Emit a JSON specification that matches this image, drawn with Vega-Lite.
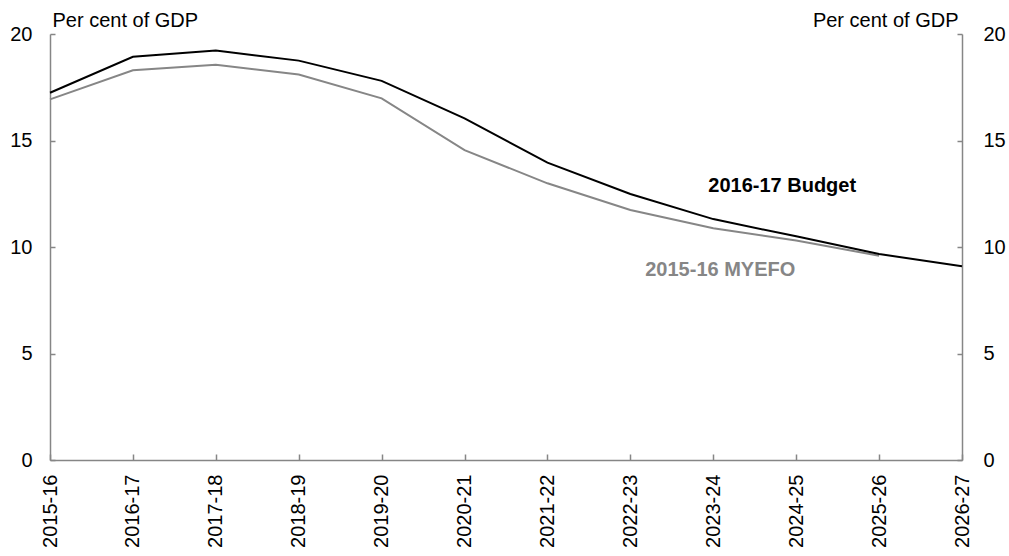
{
  "$schema": "https://vega.github.io/schema/vega-lite/v6.json",
  "width": 912,
  "height": 426,
  "autosize": "none",
  "padding": {"left": 50, "top": 34, "right": 47, "bottom": 96},
  "background": "white",
  "config": {
    "view": {"stroke": null},
    "font": "Liberation Sans",
    "axis": {
      "labelFont": "Liberation Sans",
      "titleFont": "Liberation Sans",
      "labelFontSize": 20,
      "titleFontSize": 20,
      "labelColor": "#000000",
      "titleColor": "#000000",
      "titleFontWeight": "normal",
      "domainColor": "#868686",
      "tickColor": "#868686",
      "domainWidth": 1.5,
      "tickWidth": 1.5,
      "grid": false
    }
  },
  "data": {
    "values": [
      {"year": "2015-16", "series": "2016-17 Budget", "value": 17.24},
      {"year": "2016-17", "series": "2016-17 Budget", "value": 18.93},
      {"year": "2017-18", "series": "2016-17 Budget", "value": 19.22},
      {"year": "2018-19", "series": "2016-17 Budget", "value": 18.75},
      {"year": "2019-20", "series": "2016-17 Budget", "value": 17.8},
      {"year": "2020-21", "series": "2016-17 Budget", "value": 16.04},
      {"year": "2021-22", "series": "2016-17 Budget", "value": 13.96},
      {"year": "2022-23", "series": "2016-17 Budget", "value": 12.49},
      {"year": "2023-24", "series": "2016-17 Budget", "value": 11.31},
      {"year": "2024-25", "series": "2016-17 Budget", "value": 10.5},
      {"year": "2025-26", "series": "2016-17 Budget", "value": 9.67},
      {"year": "2026-27", "series": "2016-17 Budget", "value": 9.1},
      {"year": "2015-16", "series": "2015-16 MYEFO", "value": 16.93},
      {"year": "2016-17", "series": "2015-16 MYEFO", "value": 18.3},
      {"year": "2017-18", "series": "2015-16 MYEFO", "value": 18.56},
      {"year": "2018-19", "series": "2015-16 MYEFO", "value": 18.1},
      {"year": "2019-20", "series": "2015-16 MYEFO", "value": 16.98},
      {"year": "2020-21", "series": "2015-16 MYEFO", "value": 14.55},
      {"year": "2021-22", "series": "2015-16 MYEFO", "value": 12.99},
      {"year": "2022-23", "series": "2015-16 MYEFO", "value": 11.74},
      {"year": "2023-24", "series": "2015-16 MYEFO", "value": 10.88},
      {"year": "2024-25", "series": "2015-16 MYEFO", "value": 10.3},
      {"year": "2025-26", "series": "2015-16 MYEFO", "value": 9.59}
    ]
  },
  "encoding": {
    "x": {
      "field": "year",
      "type": "ordinal",
      "scale": {"type": "point", "padding": 0, "domain": ["2015-16","2016-17","2017-18","2018-19","2019-20","2020-21","2021-22","2022-23","2023-24","2024-25","2025-26","2026-27"]},
      "axis": {"title": null, "labelAngle": 270, "labelAlign": "right", "labelBaseline": "middle", "tickSize": -6, "labelPadding": 20}
    }
  },
  "layer": [
    {
      "transform": [{"filter": "datum.series === '2015-16 MYEFO'"}],
      "mark": {"type": "line", "color": "#868686", "strokeWidth": 2},
      "encoding": {
        "y": {
          "field": "value", "type": "quantitative",
          "scale": {"domain": [0, 20], "nice": false},
          "axis": {"orient": "left", "values": [0,5,10,15,20], "tickSize": -5, "labelPadding": 23,
                   "title": "Per cent of GDP", "titleAngle": 0, "titleAlign": "left", "titleBaseline": "alphabetic", "titleX": 2, "titleY": -8}
        }
      }
    },
    {
      "transform": [{"filter": "datum.series === '2016-17 Budget'"}],
      "mark": {"type": "line", "color": "#000000", "strokeWidth": 2},
      "encoding": {
        "y": {
          "field": "value", "type": "quantitative",
          "scale": {"domain": [0, 20], "nice": false},
          "axis": {"orient": "right", "values": [0,5,10,15,20], "tickSize": -5, "labelPadding": 26,
                   "title": "Per cent of GDP", "titleAngle": 0, "titleAlign": "right", "titleBaseline": "alphabetic", "titleX": -4, "titleY": -8}
        }
      }
    },
    {
      "data": {"values": [
        {"year": "2024-25", "value": 12.6, "label": "2016-17 Budget", "series": "2016-17 Budget"}
      ]},
      "mark": {"type": "text", "font": "Liberation Sans", "fontSize": 20, "fontWeight": "bold", "color": "#000000", "align": "center", "baseline": "alphabetic", "dx": -14},
      "encoding": {
        "y": {"field": "value", "type": "quantitative", "axis": null},
        "text": {"field": "label"}
      }
    },
    {
      "data": {"values": [
        {"year": "2023-24", "value": 8.64, "label": "2015-16 MYEFO", "series": "2015-16 MYEFO"}
      ]},
      "mark": {"type": "text", "font": "Liberation Sans", "fontSize": 20, "fontWeight": "bold", "color": "#868686", "align": "center", "baseline": "alphabetic", "dx": 7},
      "encoding": {
        "y": {"field": "value", "type": "quantitative", "axis": null},
        "text": {"field": "label"}
      }
    }
  ],
  "resolve": {"axis": {"y": "independent"}}
}
